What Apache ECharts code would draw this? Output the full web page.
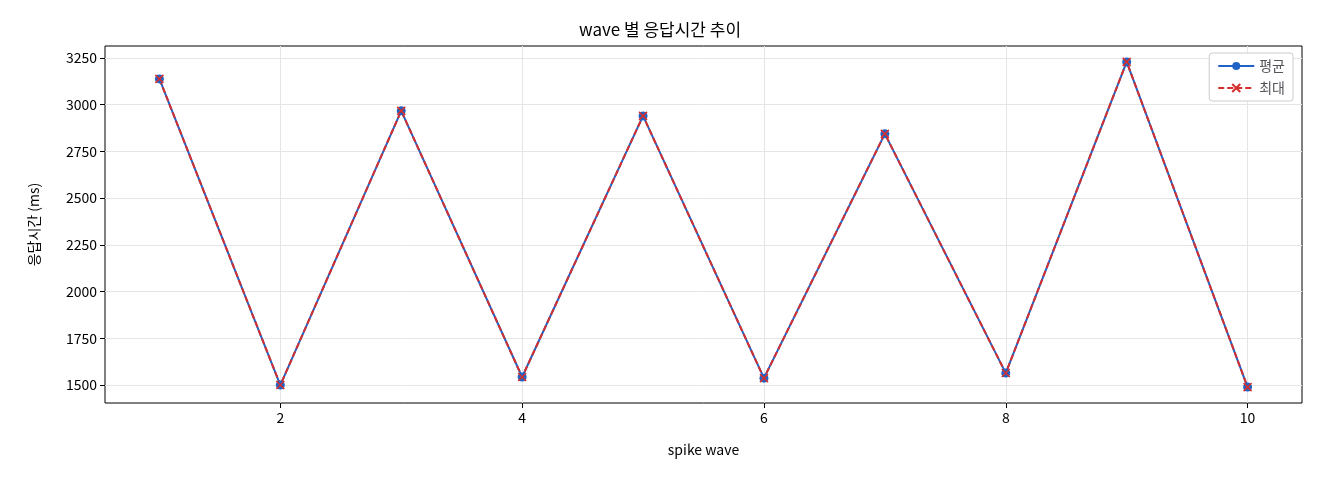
<!DOCTYPE html><html><head><meta charset="utf-8"><script src="https://cdn.jsdelivr.net/npm/echarts@6/dist/echarts.min.js"></script></head><body style="margin:0"><div id="c" style="width:1320px;height:480px"></div><script>
const waves=[1,2,3,4,5,6,7,8,9,10];
const avgVals=[3138,1500,2967,1543,2940,1537,2844,1564,3229,1489];
const maxVals=[3138,1500,2967,1543,2940,1537,2844,1564,3229,1489];
const xTicks=[2,4,6,8,10];
const yTicks=[1500,1750,2000,2250,2500,2750,3000,3250];
const F='"Noto Sans CJK KR","DejaVu Sans",sans-serif';
const xPath='path://M0,0L10,10M10,0L0,10';
const ch=echarts.init(document.getElementById('c'));
ch.setOption({
 animation:false,
 textStyle:{fontFamily:F},
 title:{text:'wave 별 응답시간 추이',left:'center',top:16,textStyle:{fontSize:17,fontWeight:'normal',color:'#000',fontFamily:F}},
 grid:{left:105,right:18,top:46,bottom:77,show:true,borderColor:'#000',borderWidth:1},
 legend:{right:27,top:53,orient:'vertical',itemGap:8,backgroundColor:'#fff',borderColor:'#ccc',borderWidth:1,borderRadius:3,padding:[6,8],textStyle:{fontSize:14,fontFamily:F},itemWidth:36,itemHeight:10,
  data:[{name:'평균'},{name:'최대'}]},
 xAxis:{type:'value',min:0.55,max:10.45,name:'spike wave',nameLocation:'middle',nameGap:40,nameTextStyle:{fontSize:14,color:'#000'},
  axisLine:{show:false},axisTick:{show:true,customValues:xTicks,lineStyle:{color:'#000'}},
  axisLabel:{customValues:xTicks,color:'#000',fontSize:14,formatter:v=>String(v)},
  splitLine:{show:true,lineStyle:{color:'#e5e5e5'}}},
 yAxis:{type:'value',min:1404,max:3314,name:'응답시간 (ms)',nameLocation:'middle',nameGap:64,nameTextStyle:{fontSize:14,color:'#000'},
  axisLine:{show:false},axisTick:{show:true,customValues:yTicks,lineStyle:{color:'#000'}},
  axisLabel:{customValues:yTicks,color:'#000',fontSize:14,formatter:v=>String(v)},
  splitLine:{show:true,lineStyle:{color:'#e5e5e5'}}},
 series:[
  {name:'평균',type:'line',data:waves.map((w,i)=>[w,avgVals[i]]),symbol:'circle',symbolSize:9,itemStyle:{color:'#1f63c6'},lineStyle:{color:'#1f63c6',width:2}},
  {name:'최대',type:'line',data:waves.map((w,i)=>[w,maxVals[i]]),symbol:xPath,symbolSize:8,itemStyle:{color:'#d62d2d',borderColor:'#d62d2d',borderWidth:1.5},lineStyle:{color:'#d62d2d',width:2,type:[6,3]}}
 ]
});
</script></body></html>
